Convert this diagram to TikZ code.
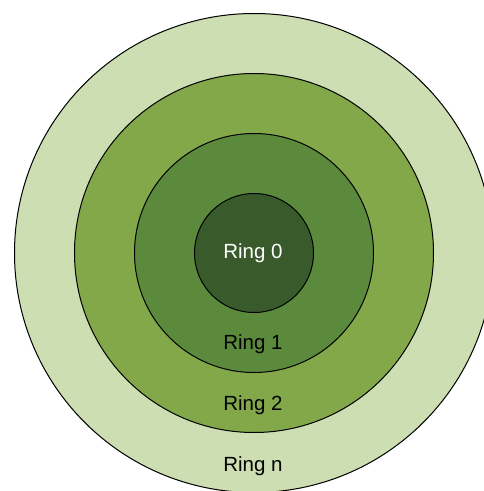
\documentclass[tikz,border=0pt]{standalone}
\usepackage{fontspec}
\setmainfont{Liberation Sans}
\definecolor{ringn}{RGB}{204,222,178}
\definecolor{ringtwo}{RGB}{130,168,74}
\definecolor{ringone}{RGB}{91,138,60}
\definecolor{ringzero}{RGB}{57,91,44}
\tikzset{
  ring/.style={circle, draw=black, line width=1pt, inner sep=0pt},
  lbl/.style={font=\fontsize{20.5}{24}\selectfont, inner sep=0pt}
}
\begin{document}
\begin{tikzpicture}[x=1pt,y=-1pt]
\useasboundingbox (0,0) rectangle (484,491);
\clip (0,0) rectangle (484,491);
\fill[white] (0,0) rectangle (484,491);
\node[ring, fill=ringn, minimum size=479pt] (rn) at (254,253) {};
\node[ring, fill=ringtwo, minimum size=359pt] (r2) at (254,253) {};
\node[ring, fill=ringone, minimum size=239pt] (r1) at (254,253) {};
\node[ring, fill=ringzero, minimum size=119pt] (r0) at (254,253) {};
\node[lbl, text=white] (t0) at (253,253) {Ring 0};
\node[lbl] (t1) at (253,344) {Ring 1};
\node[lbl] (t2) at (253,405) {Ring 2};
\node[lbl] (tn) at (253,466) {Ring n};
\end{tikzpicture}
\end{document}
